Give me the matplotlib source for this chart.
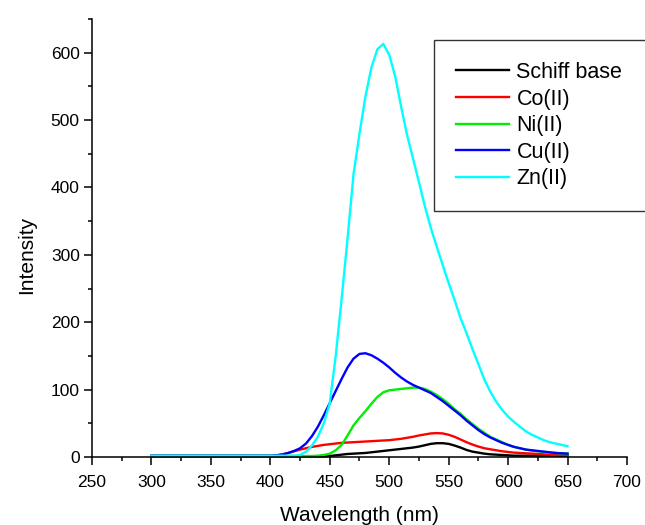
import matplotlib
matplotlib.use("Agg")
import matplotlib.pyplot as plt
from matplotlib.ticker import MultipleLocator

plt.rcParams['font.family'] = ['Liberation Sans', 'DejaVu Sans']

# emission spectra
wavelength = [300, 350, 400, 405, 410, 415, 420, 425, 430, 435, 440, 445,
              450, 455, 460, 465, 470, 475, 480, 485, 490, 495, 500, 505,
              510, 515, 520, 525, 530, 535, 540, 545, 550, 555, 560, 565,
              570, 575, 580, 585, 590, 595, 600, 605, 610, 615, 620, 625,
              630, 635, 640, 645, 650]

schiff = [1, 1, 1, 1, 1, 1, 1, 1, 1, 1, 1, 1,
          1.5, 2.5, 3.5, 4.5, 5, 5.5, 6, 7, 8, 9, 10, 11,
          12, 13, 14, 15.5, 17.5, 19.5, 20.5, 20.5, 19.5, 17, 14, 10.5,
          8, 6.5, 5, 4, 3.5, 3, 2.5, 2, 2, 2, 2, 2,
          2, 2, 2, 2, 2]

co = [2, 2, 2, 2.5, 4, 6, 8.5, 11, 13, 15, 16.5, 18,
      19, 20, 21, 21.5, 22, 22.5, 23, 23.5, 24, 24.5, 25, 26,
      27, 28.5, 30, 32, 33.5, 35, 35.5, 35, 33, 30, 26, 22,
      18.5, 15.5, 13, 11.5, 10, 8.5, 7.5, 6.5, 6, 5.5, 5, 4.5,
      4, 3.5, 3, 3, 3]

ni = [1.5, 1.5, 1.5, 1.5, 1.5, 1.5, 1.5, 1.5, 1.5, 1.5, 2, 3,
      5, 10, 18, 32, 47, 58, 68, 79, 89, 96, 99, 100,
      101, 102, 103, 103, 101, 97, 92, 86, 79, 71, 64, 56,
      49, 42, 36, 30, 26, 22, 18, 15, 13, 11, 9.5, 8.5,
      7.5, 6.5, 6, 5.5, 5]

cu = [2, 2, 2, 2.5, 3.5, 6, 9, 13, 20, 31, 45, 62,
      80, 98, 116, 133, 146, 153, 154, 151, 146, 140, 133, 125,
      118, 112, 107, 103, 99, 95, 89, 83, 76, 69, 62, 54,
      47, 40, 34, 29, 25, 21, 18, 15, 13, 11, 10, 9,
      8, 7, 6, 5.5, 5]

zn = [2, 2, 2, 2, 2, 2, 2, 3, 8, 17, 30, 50,
      80, 150, 235, 325, 420, 480, 535, 578, 605, 613, 597, 565,
      520, 478, 443, 408, 372, 340, 312, 285, 258, 233, 206, 184,
      160, 138, 115, 97, 82, 70, 60, 52, 45, 38, 33, 29,
      25, 22, 20, 18, 16]

series = [
    ('Schiff base', schiff, '#000000'),
    ('Co(II)', co, '#ff0000'),
    ('Ni(II)', ni, '#00ee00'),
    ('Cu(II)', cu, '#0000ff'),
    ('Zn(II)', zn, '#00ffff'),
]

fig = plt.figure(figsize=(6.45, 5.25), dpi=100)
ax = fig.add_axes([0.1426, 0.1295, 0.8295, 0.8343])

for name, vals, col in series:
    ax.plot(wavelength, vals, color=col, lw=1.7, label=name, clip_on=False)

ax.set_xlim(250, 700)
ax.set_ylim(0, 650)
ax.xaxis.set_major_locator(MultipleLocator(50))
ax.xaxis.set_minor_locator(MultipleLocator(25))
ax.yaxis.set_major_locator(MultipleLocator(100))
ax.yaxis.set_minor_locator(MultipleLocator(50))

for s in ['top', 'right']:
    ax.spines[s].set_visible(False)
for s in ['left', 'bottom']:
    ax.spines[s].set_linewidth(1.1)

ax.tick_params(which='major', direction='out', length=5.8, width=1.1,
               labelsize=12.5, pad=3)
ax.tick_params(which='minor', direction='out', length=3, width=1.1)
ax.tick_params(axis='x', which='major', pad=7)

ax.set_xlabel('Wavelength (nm)', fontsize=15)
ax.set_ylabel('Intensity', fontsize=15)
ax.xaxis.set_label_coords(0.5, -0.112)
ax.yaxis.set_label_coords(-0.105, 0.461)

leg = ax.legend(loc='upper left', bbox_to_anchor=(0.6729, 0.9219, 0.358, 0.001),
                bbox_transform=fig.transFigure, mode='expand', borderaxespad=0,
                fontsize=15.5, handlelength=2.5, handletextpad=0.33,
                labelspacing=0.26, borderpad=1.0, fancybox=False,
                framealpha=1, edgecolor='#333333')
leg.get_frame().set_linewidth(1.0)

fig.savefig('out.png', dpi=100)
